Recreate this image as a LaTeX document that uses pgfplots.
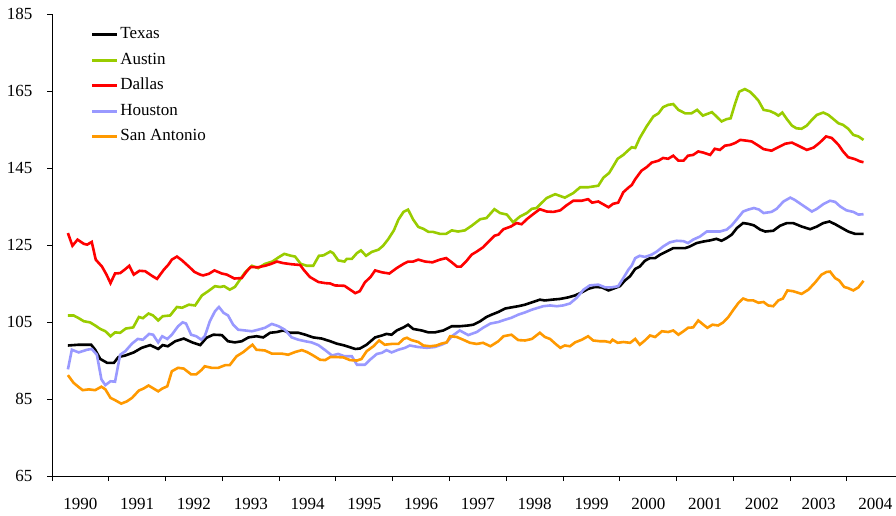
\documentclass[border=0pt]{standalone}
\usepackage{fontspec}
\setmainfont{Liberation Serif}
\usepackage{pgfplots}
\pgfplotsset{compat=1.18}
\definecolor{cTexas}{HTML}{000000}
\definecolor{cAustin}{HTML}{99CC00}
\definecolor{cDallas}{HTML}{FF0000}
\definecolor{cHouston}{HTML}{9999FF}
\definecolor{cSanAnt}{HTML}{FF9900}
\newcommand{\lblfont}{\fontsize{17}{20}\selectfont}

\begin{document}
\begin{tikzpicture}
\begin{axis}[
  scale only axis, width=844pt, height=462pt,
  xmin=1990, xmax=2004.862, ymin=65, ymax=185,
  axis lines*=left, axis line style={-, line width=1pt},
  tick align=outside, major tick length=5pt, tick style={black, line width=1pt},
  xtick={1990,...,2004}, xticklabels={},
  extra x ticks={1990.5,1991.5,1992.5,1993.5,1994.5,1995.5,1996.5,1997.5,1998.5,1999.5,2000.5,2001.5,2002.5,2003.5,2004.5},
  extra x tick labels={1990,1991,1992,1993,1994,1995,1996,1997,1998,1999,2000,2001,2002,2003,2004},
  extra x tick style={major tick length=0pt, xticklabel style={yshift=-19pt}},
  ytick={65,85,...,185},
  yticklabel style={xshift=-11pt},
  tick label style={font=\lblfont},
  /pgf/number format/assume math mode=true,
  every axis plot/.append style={line width=2.6pt},
  legend style={font=\lblfont, draw=none, fill=none, at={(rel axis cs:0,1)}, anchor=north west,
    xshift=38.5pt, yshift=-10pt, inner sep=0pt, row sep=4.5pt,
    nodes={inner sep=2pt, text height=12.75pt, text depth=4.25pt}},
  legend cell align=left,
  legend image code/.code={\draw[#1] (0pt,0pt) -- (25pt,0pt);},
]
\addplot[cTexas] coordinates {(1990.28,98.9)(1990.47,99.1)(1990.69,99.1)(1990.76,97.8)(1990.85,95.4)(1990.97,94.4)(1991.09,94.4)(1991.17,95.9)(1991.29,96.3)(1991.44,97.1)(1991.58,98.3)(1991.73,99.0)(1991.87,98.0)(1991.95,99.0)(1992.04,98.7)(1992.17,100.0)(1992.32,100.7)(1992.47,99.7)(1992.61,99.0)(1992.72,100.9)(1992.84,101.7)(1992.99,101.6)(1993.10,100.0)(1993.22,99.7)(1993.34,100.0)(1993.46,101.0)(1993.60,101.3)(1993.72,101.0)(1993.84,102.2)(1993.96,102.4)(1994.07,102.8)(1994.19,102.2)(1994.34,102.2)(1994.46,101.7)(1994.60,101.0)(1994.75,100.7)(1994.90,100.0)(1995.01,99.4)(1995.15,98.9)(1995.34,98.0)(1995.42,98.1)(1995.54,99.1)(1995.69,101.0)(1995.81,101.5)(1995.89,101.9)(1995.98,101.7)(1996.07,102.8)(1996.19,103.6)(1996.27,104.3)(1996.36,103.2)(1996.51,102.8)(1996.63,102.3)(1996.74,102.3)(1996.89,102.8)(1997.04,103.9)(1997.18,103.9)(1997.33,104.1)(1997.42,104.3)(1997.54,105.2)(1997.65,106.3)(1997.74,106.9)(1997.86,107.6)(1997.98,108.5)(1998.09,108.8)(1998.21,109.1)(1998.33,109.5)(1998.45,110.1)(1998.59,110.8)(1998.68,110.6)(1998.80,110.8)(1998.95,111.0)(1999.09,111.4)(1999.21,111.9)(1999.33,112.7)(1999.44,113.6)(1999.56,114.1)(1999.68,114.0)(1999.80,113.2)(1999.91,113.8)(2000.00,114.3)(2000.09,115.8)(2000.18,116.9)(2000.27,118.8)(2000.35,119.4)(2000.44,120.9)(2000.53,121.6)(2000.62,121.6)(2000.71,122.5)(2000.82,123.3)(2000.94,124.2)(2001.03,124.2)(2001.15,124.2)(2001.23,124.6)(2001.35,125.5)(2001.47,125.9)(2001.59,126.2)(2001.70,126.6)(2001.79,126.1)(2001.88,126.8)(2001.97,127.7)(2002.06,129.4)(2002.17,130.7)(2002.26,130.5)(2002.36,130.1)(2002.47,129.0)(2002.56,128.5)(2002.70,128.7)(2002.82,130.0)(2002.94,130.7)(2003.05,130.7)(2003.20,129.8)(2003.35,129.1)(2003.47,129.8)(2003.58,130.7)(2003.69,131.1)(2003.79,130.4)(2003.91,129.4)(2004.02,128.5)(2004.14,127.9)(2004.29,127.9)};
\addlegendentry{Texas}
\addplot[cAustin] coordinates {(1990.28,106.7)(1990.38,106.7)(1990.47,106.0)(1990.56,105.2)(1990.67,104.9)(1990.76,104.1)(1990.85,103.2)(1990.94,102.6)(1991.03,101.3)(1991.11,102.3)(1991.20,102.2)(1991.30,103.3)(1991.43,103.6)(1991.53,106.3)(1991.60,106.0)(1991.70,107.2)(1991.78,106.7)(1991.87,105.4)(1991.95,106.5)(1992.08,106.7)(1992.20,108.9)(1992.29,108.7)(1992.41,109.5)(1992.52,109.3)(1992.64,111.9)(1992.75,113.0)(1992.87,114.3)(1992.96,114.1)(1993.03,114.3)(1993.13,113.4)(1993.22,114.1)(1993.31,116.0)(1993.40,117.9)(1993.52,119.6)(1993.63,119.0)(1993.75,120.1)(1993.88,120.7)(1993.99,121.8)(1994.09,122.7)(1994.21,122.2)(1994.28,122.0)(1994.38,120.1)(1994.49,119.6)(1994.60,119.6)(1994.70,122.2)(1994.78,122.3)(1994.90,123.3)(1994.95,122.9)(1995.04,121.0)(1995.15,120.7)(1995.19,121.4)(1995.28,121.4)(1995.37,122.9)(1995.44,123.6)(1995.53,122.2)(1995.63,123.2)(1995.75,123.8)(1995.83,124.8)(1995.92,126.5)(1996.02,128.8)(1996.10,131.6)(1996.19,133.6)(1996.27,134.2)(1996.36,131.6)(1996.45,129.7)(1996.54,129.2)(1996.63,128.4)(1996.71,128.4)(1996.83,127.9)(1996.94,127.9)(1997.04,128.8)(1997.15,128.5)(1997.27,128.8)(1997.39,130.0)(1997.54,131.7)(1997.65,132.0)(1997.79,134.3)(1997.89,133.3)(1998.01,132.9)(1998.12,130.9)(1998.24,132.4)(1998.36,133.3)(1998.45,134.4)(1998.53,134.6)(1998.62,135.9)(1998.71,137.2)(1998.86,138.2)(1999.03,137.3)(1999.18,138.5)(1999.30,140.0)(1999.44,140.0)(1999.62,140.4)(1999.71,142.5)(1999.81,143.7)(1999.88,145.4)(1999.96,147.4)(2000.06,148.4)(2000.14,149.5)(2000.21,150.4)(2000.27,150.2)(2000.35,152.8)(2000.47,155.8)(2000.59,158.4)(2000.68,159.2)(2000.76,160.8)(2000.85,161.4)(2000.94,161.6)(2001.03,160.1)(2001.15,159.2)(2001.26,159.2)(2001.36,160.1)(2001.46,158.6)(2001.53,159.0)(2001.62,159.5)(2001.70,158.4)(2001.79,157.1)(2001.88,157.7)(2001.95,157.9)(2002.03,161.8)(2002.10,164.8)(2002.20,165.5)(2002.29,164.8)(2002.36,163.8)(2002.44,162.5)(2002.53,160.1)(2002.64,159.8)(2002.73,159.2)(2002.79,158.6)(2002.86,159.4)(2002.94,157.7)(2003.03,156.0)(2003.11,155.3)(2003.20,155.2)(2003.29,156.0)(2003.38,157.5)(2003.47,158.8)(2003.58,159.4)(2003.67,158.8)(2003.76,157.7)(2003.85,156.6)(2003.93,156.2)(2004.02,155.2)(2004.11,153.6)(2004.20,153.2)(2004.29,152.3)};
\addlegendentry{Austin}
\addplot[cDallas] coordinates {(1990.28,128.1)(1990.36,124.8)(1990.45,126.4)(1990.56,125.3)(1990.62,125.1)(1990.70,125.8)(1990.77,121.2)(1990.88,119.4)(1990.96,117.3)(1991.03,115.1)(1991.11,117.6)(1991.20,117.7)(1991.28,118.6)(1991.36,119.6)(1991.44,117.3)(1991.54,118.3)(1991.64,118.2)(1991.76,117.0)(1991.85,116.2)(1991.97,118.6)(1992.05,119.9)(1992.11,121.2)(1992.20,122.0)(1992.29,121.0)(1992.41,119.4)(1992.51,118.0)(1992.61,117.3)(1992.66,117.1)(1992.76,117.5)(1992.86,118.4)(1992.99,117.6)(1993.08,117.3)(1993.21,116.3)(1993.34,116.4)(1993.43,118.2)(1993.50,119.3)(1993.62,119.2)(1993.75,119.6)(1993.86,120.1)(1993.96,120.7)(1994.07,120.3)(1994.22,120.0)(1994.37,119.8)(1994.43,118.6)(1994.54,116.7)(1994.69,115.4)(1994.81,115.1)(1994.90,115.0)(1994.98,114.5)(1995.15,114.4)(1995.25,113.4)(1995.34,112.5)(1995.42,113.0)(1995.51,115.3)(1995.61,116.7)(1995.69,118.4)(1995.81,117.9)(1995.94,117.6)(1996.07,119.0)(1996.19,120.1)(1996.27,120.7)(1996.36,120.7)(1996.45,121.2)(1996.57,120.7)(1996.70,120.5)(1996.83,121.2)(1996.94,121.6)(1997.04,120.5)(1997.13,119.4)(1997.20,119.4)(1997.29,120.7)(1997.39,122.5)(1997.48,123.3)(1997.59,124.4)(1997.71,126.2)(1997.79,127.4)(1997.86,127.7)(1997.95,129.1)(1998.08,129.8)(1998.18,130.7)(1998.27,130.4)(1998.36,131.7)(1998.48,133.1)(1998.59,134.3)(1998.71,133.7)(1998.83,133.6)(1998.95,134.0)(1999.06,135.3)(1999.18,136.5)(1999.33,136.5)(1999.44,136.9)(1999.51,136.0)(1999.62,136.3)(1999.80,134.8)(1999.88,135.7)(1999.97,136.0)(2000.06,138.7)(2000.15,139.9)(2000.21,140.6)(2000.27,142.1)(2000.38,144.3)(2000.47,145.2)(2000.56,146.4)(2000.68,146.9)(2000.76,147.6)(2000.85,147.4)(2000.94,148.2)(2001.03,146.9)(2001.12,146.9)(2001.20,148.2)(2001.29,148.4)(2001.38,149.3)(2001.47,149.0)(2001.59,148.4)(2001.67,150.0)(2001.76,149.7)(2001.85,150.8)(2001.94,151.0)(2002.03,151.5)(2002.12,152.3)(2002.23,152.1)(2002.32,151.9)(2002.44,150.8)(2002.53,149.9)(2002.67,149.5)(2002.79,150.4)(2002.91,151.3)(2003.03,151.6)(2003.14,150.8)(2003.29,149.7)(2003.41,150.3)(2003.52,151.6)(2003.63,153.2)(2003.73,152.8)(2003.85,151.0)(2003.93,149.3)(2004.02,147.8)(2004.14,147.3)(2004.23,146.7)(2004.29,146.5)};
\addlegendentry{Dallas}
\addplot[cHouston] coordinates {(1990.28,92.7)(1990.35,97.8)(1990.47,97.1)(1990.62,97.8)(1990.70,98.0)(1990.79,96.5)(1990.87,90.1)(1990.94,88.6)(1991.03,89.6)(1991.11,89.5)(1991.20,96.5)(1991.29,97.4)(1991.41,99.4)(1991.51,100.6)(1991.60,100.4)(1991.71,101.9)(1991.78,101.7)(1991.87,99.7)(1991.94,101.3)(1992.03,100.6)(1992.11,101.7)(1992.22,103.9)(1992.30,104.9)(1992.36,104.6)(1992.45,101.7)(1992.54,101.3)(1992.63,100.4)(1992.69,101.3)(1992.78,105.2)(1992.87,107.8)(1992.94,108.9)(1993.02,107.4)(1993.10,106.7)(1993.19,104.3)(1993.28,103.0)(1993.40,102.8)(1993.52,102.6)(1993.63,103.0)(1993.75,103.5)(1993.87,104.5)(1993.99,103.9)(1994.10,103.0)(1994.22,101.0)(1994.34,100.4)(1994.46,100.0)(1994.57,99.7)(1994.69,99.0)(1994.81,97.7)(1994.93,96.3)(1995.04,96.7)(1995.15,96.1)(1995.28,96.1)(1995.37,93.9)(1995.51,93.9)(1995.60,95.2)(1995.72,96.7)(1995.81,97.0)(1995.89,97.7)(1995.98,97.1)(1996.10,97.8)(1996.22,98.3)(1996.30,98.9)(1996.45,98.5)(1996.60,98.3)(1996.74,98.5)(1996.86,99.1)(1996.95,99.7)(1997.04,101.3)(1997.18,102.8)(1997.33,101.6)(1997.48,102.4)(1997.59,103.5)(1997.72,104.6)(1997.86,105.0)(1997.98,105.6)(1998.09,106.1)(1998.21,106.9)(1998.33,107.5)(1998.45,108.2)(1998.56,108.7)(1998.65,109.1)(1998.77,109.3)(1998.89,109.1)(1999.00,109.3)(1999.12,109.8)(1999.24,111.3)(1999.36,113.4)(1999.47,114.5)(1999.62,114.7)(1999.74,114.0)(1999.86,114.0)(1999.97,114.3)(2000.06,116.4)(2000.15,118.6)(2000.21,119.7)(2000.27,121.6)(2000.35,122.2)(2000.44,121.9)(2000.56,122.5)(2000.65,123.3)(2000.76,124.6)(2000.88,125.7)(2001.00,126.1)(2001.12,126.0)(2001.20,125.5)(2001.29,126.4)(2001.41,127.2)(2001.53,128.5)(2001.64,128.5)(2001.76,128.5)(2001.88,129.0)(2001.97,130.1)(2002.06,131.7)(2002.17,133.7)(2002.26,134.2)(2002.36,134.6)(2002.45,134.2)(2002.53,133.3)(2002.67,133.6)(2002.76,134.4)(2002.88,136.3)(2003.00,137.3)(2003.08,136.7)(2003.20,135.5)(2003.29,134.6)(2003.38,133.7)(2003.47,134.4)(2003.58,135.6)(2003.70,136.5)(2003.79,136.2)(2003.88,135.0)(2003.99,134.0)(2004.11,133.6)(2004.20,132.9)(2004.29,133.0)};
\addlegendentry{Houston}
\addplot[cSanAnt] coordinates {(1990.28,91.2)(1990.38,89.2)(1990.47,88.1)(1990.54,87.3)(1990.65,87.5)(1990.76,87.3)(1990.87,88.2)(1990.94,87.5)(1991.03,85.3)(1991.11,84.7)(1991.22,83.8)(1991.32,84.4)(1991.41,85.3)(1991.53,87.2)(1991.61,87.7)(1991.70,88.5)(1991.79,87.7)(1991.87,87.0)(1991.94,87.7)(1992.03,88.3)(1992.11,92.2)(1992.22,93.1)(1992.32,92.9)(1992.45,91.4)(1992.54,91.4)(1992.63,92.5)(1992.69,93.5)(1992.81,93.1)(1992.93,93.1)(1993.05,93.8)(1993.13,93.8)(1993.25,96.1)(1993.37,97.2)(1993.46,98.3)(1993.53,99.1)(1993.60,97.8)(1993.75,97.6)(1993.87,96.8)(1994.04,96.8)(1994.16,96.5)(1994.28,97.2)(1994.40,97.7)(1994.49,97.2)(1994.60,96.3)(1994.72,95.2)(1994.81,95.1)(1994.90,95.9)(1995.01,95.9)(1995.13,95.8)(1995.25,95.1)(1995.37,95.0)(1995.45,95.4)(1995.54,97.4)(1995.66,98.7)(1995.76,100.2)(1995.86,99.1)(1995.98,99.3)(1996.10,99.3)(1996.19,100.6)(1996.25,100.9)(1996.33,100.3)(1996.45,99.8)(1996.54,98.9)(1996.66,98.7)(1996.77,98.9)(1996.86,99.4)(1996.95,99.7)(1997.01,101.3)(1997.13,101.1)(1997.24,100.4)(1997.36,99.6)(1997.48,99.3)(1997.59,99.6)(1997.72,98.7)(1997.86,100.0)(1997.95,101.3)(1998.09,101.7)(1998.21,100.3)(1998.33,100.2)(1998.45,100.6)(1998.59,102.2)(1998.68,101.1)(1998.77,100.6)(1998.86,99.4)(1998.95,98.3)(1999.03,98.9)(1999.12,98.7)(1999.21,99.7)(1999.33,100.4)(1999.44,101.3)(1999.53,100.2)(1999.65,100.0)(1999.74,100.0)(1999.83,99.7)(1999.87,100.4)(1999.96,99.6)(2000.06,99.8)(2000.18,99.6)(2000.27,100.6)(2000.35,99.1)(2000.44,100.2)(2000.53,101.5)(2000.62,101.1)(2000.74,102.6)(2000.85,102.4)(2000.94,102.8)(2001.03,101.7)(2001.12,102.6)(2001.20,103.5)(2001.29,103.6)(2001.38,105.4)(2001.47,104.3)(2001.54,103.5)(2001.63,104.3)(2001.73,104.1)(2001.82,104.9)(2001.91,106.3)(2002.00,108.2)(2002.09,110.0)(2002.17,111.1)(2002.26,110.6)(2002.35,110.6)(2002.44,110.0)(2002.53,110.2)(2002.61,109.3)(2002.70,109.1)(2002.79,110.6)(2002.87,111.1)(2002.95,113.2)(2003.05,113.0)(2003.20,112.3)(2003.32,113.4)(2003.44,115.3)(2003.55,117.3)(2003.64,118.0)(2003.70,118.1)(2003.79,116.4)(2003.86,115.8)(2003.95,114.1)(2004.02,113.8)(2004.11,113.2)(2004.20,114.0)(2004.29,115.7)};
\addlegendentry{San Antonio}
\end{axis}
\pgfresetboundingbox
\path[use as bounding box] (-52pt,-39pt) rectangle (844pt,476pt);
\end{tikzpicture}
\end{document}
